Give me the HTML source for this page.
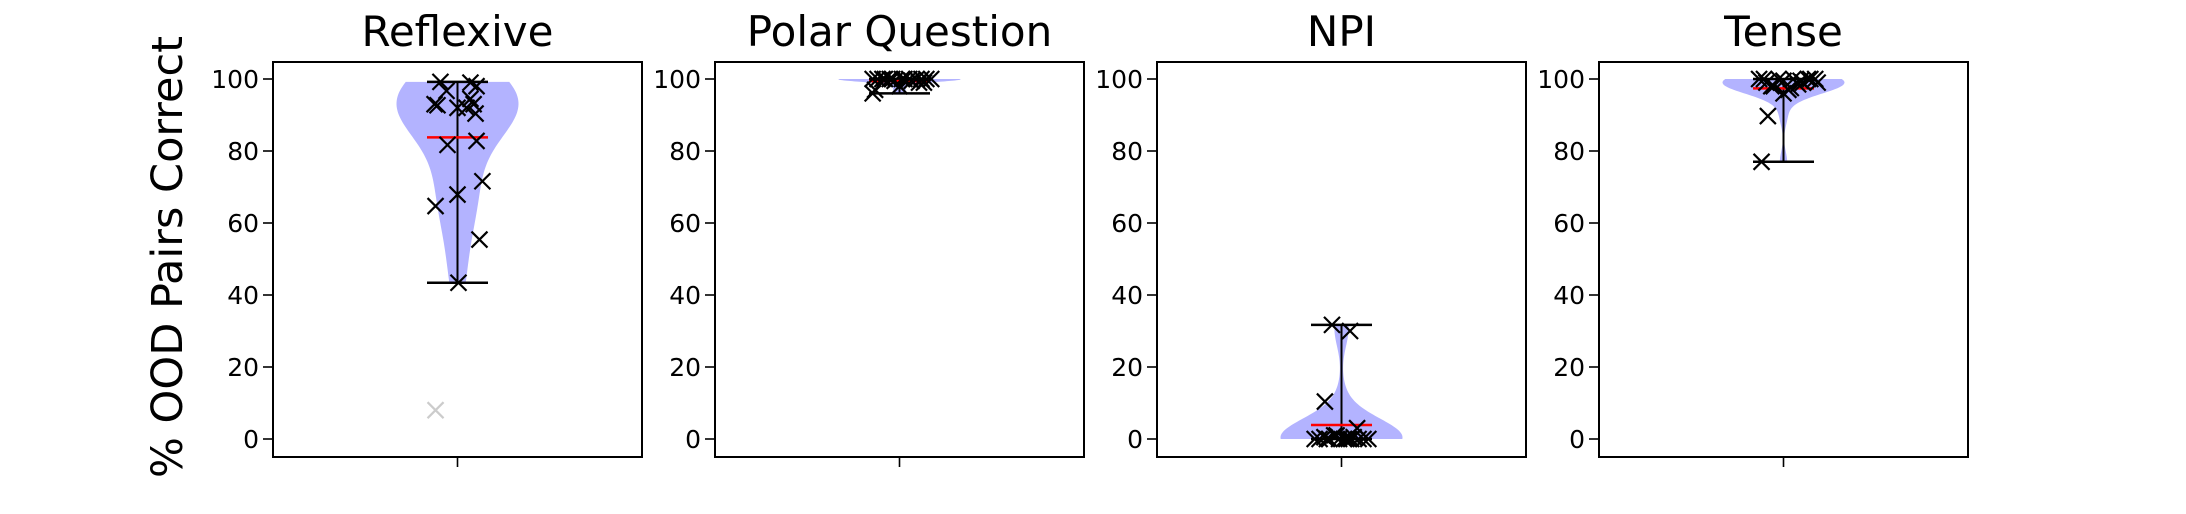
<!DOCTYPE html>
<html><head><meta charset="utf-8"><style>
html,body{margin:0;padding:0;background:#fff;}
svg{display:block;font-family:"DejaVu Sans","Liberation Sans",sans-serif;}
</style></head><body>
<svg id="chart" width="2186" height="514" viewBox="0 0 2186 514" xmlns="http://www.w3.org/2000/svg">
<text transform="translate(182,257) rotate(-90)" text-anchor="middle" font-size="43">% OOD Pairs Correct</text>
</svg>
<script>
const panelTitles = ["Reflexive", "Polar Question", "NPI", "Tense"];
const reflexiveValues = [99.2,99,98,96.7,93,92.7,92,94.5,93,90.4,92,81.7,82.8,71.6,67.9,64.7,55.4,43.4];
const reflexiveJitter = [-0.07,0.053,0.078,-0.045,-0.094,-0.082,0,0.053,0.066,0.074,0.037,-0.041,0.078,0.102,0,-0.09,0.09,0.004];
const reflexiveOutliers = [8];
const reflexiveOutlierJitter = [-0.09];
const polarValues = [100,100,100,99.5,100,99,100,100,98,100,99.5,100,100,97,100,99,100,96,100,100];
const polarJitter = [-0.11,-0.06,0.02,0.05,-0.03,0.08,0.11,-0.09,0.0,0.13,-0.02,0.04,-0.07,-0.1,0.07,0.1,0.09,-0.11,-0.04,0.01];
const npiValues = [31.7,30,10.4,3,0,0,0.5,0,1,0,0,0,0.5,0,0,0,1,0,0,0];
const npiJitter = [-0.039,0.035,-0.068,0.064,-0.11,-0.09,-0.07,-0.05,-0.03,-0.01,0.01,0.03,0.05,0.07,0.09,0.11,-0.02,0.02,0.04,-0.06];
const tenseValues = [77,89.7,100,99,98,100,99.5,97,100,98.5,99,100,96,100,99,98,100,99.5,100,97.5];
const tenseJitter = [-0.09,-0.064,-0.1,-0.07,-0.04,-0.02,0.0,0.02,0.04,0.06,0.08,0.1,0.0,0.13,0.14,-0.05,0.11,0.07,-0.08,0.03];
const yTicks = [0,20,40,60,80,100];

const panels = [
  {values: reflexiveValues, jitter: reflexiveJitter, outliers: reflexiveOutliers, outJitter: reflexiveOutlierJitter},
  {values: polarValues, jitter: polarJitter, outliers: [], outJitter: []},
  {values: npiValues, jitter: npiJitter, outliers: [], outJitter: []},
  {values: tenseValues, jitter: tenseJitter, outliers: [], outJitter: []}
];

const NS = "http://www.w3.org/2000/svg";
const svg = document.getElementById("chart");
const AX_W = 369, AX_TOP = 62, AX_BOT = 457, GAP = 442, LEFT0 = 273;
const Y0 = 439, YPX = 3.6;
const XPX = 244; // px per x data unit
function yScale(v){ return Y0 - v*YPX; }
function mk(tag, attrs, parent){
  const e = document.createElementNS(NS, tag);
  for (const k in attrs) e.setAttribute(k, attrs[k]);
  (parent||svg).appendChild(e);
  return e;
}
function cross(g, cx, cy, color){
  const s = 8;
  const p = mk("path", {d:`M${cx-s},${cy-s}L${cx+s},${cy+s}M${cx-s},${cy+s}L${cx+s},${cy-s}`, stroke:color, "stroke-width":2.2, fill:"none"}, g);
  
  
}
function kde(vals){
  const n = vals.length;
  const mean = vals.reduce((a,b)=>a+b,0)/n;
  const sd = Math.sqrt(vals.reduce((a,b)=>a+(b-mean)*(b-mean),0)/(n-1)) || 1;
  const bw = sd * Math.pow(n, -0.2);
  const lo = Math.min(...vals), hi = Math.max(...vals);
  const pts = [];
  for (let i=0;i<100;i++){
    const y = lo + (hi-lo)*i/99;
    let d = 0;
    for (const v of vals) d += Math.exp(-0.5*Math.pow((y-v)/bw,2));
    pts.push([y,d]);
  }
  const mx = Math.max(...pts.map(p=>p[1]));
  return pts.map(p=>[p[0], p[1]/mx*0.25]);
}

panels.forEach((pd, i) => {
  const left = LEFT0 + i*GAP;
  const cx = left + AX_W/2;
  const g = mk("g", {});
  
  

  const t = mk("text", {x: cx, y: 46, "text-anchor":"middle", "font-size":42}, g);
  t.textContent = panelTitles[i];
  
  

  // violin
  const dens = kde(pd.values);
  let d = "";
  dens.forEach((p,k)=>{ d += (k? "L":"M") + (cx + p[1]*XPX).toFixed(2) + "," + yScale(p[0]).toFixed(2); });
  for (let k=dens.length-1;k>=0;k--){ d += "L" + (cx - dens[k][1]*XPX).toFixed(2) + "," + yScale(dens[k][0]).toFixed(2); }
  d += "Z";
  const vio = mk("path", {d, fill:"rgb(179,179,255)", stroke:"none"}, g);
  
  

  const mn = Math.min(...pd.values), mxv = Math.max(...pd.values);
  const mean = pd.values.reduce((a,b)=>a+b,0)/pd.values.length;
  const cap = 0.125*XPX;
  const wl = mk("line", {x1:cx, x2:cx, y1:yScale(mn), y2:yScale(mxv), stroke:"#000", "stroke-width":2}, g);
  
  
  [mn, mxv].forEach(v=>{
    const c = mk("line", {x1:cx-cap, x2:cx+cap, y1:yScale(v), y2:yScale(v), stroke:"#000", "stroke-width":2.5}, g);
    
    
  });
  const ml = mk("line", {x1:cx-cap, x2:cx+cap, y1:yScale(mean), y2:yScale(mean), stroke:"#f00", "stroke-width":2.5}, g);
  
  

  pd.values.forEach((v,k)=> cross(g, cx + pd.jitter[k]*XPX, yScale(v), "#000"));
  pd.outliers.forEach((v,k)=> cross(g, cx + pd.outJitter[k]*XPX, yScale(v), "#cccccc"));

  // frame
  const fr = mk("rect", {x:left, y:AX_TOP, width:AX_W, height:AX_BOT-AX_TOP, fill:"none", stroke:"#000", "stroke-width":2}, g);
  
  

  yTicks.forEach(v=>{
    const y = yScale(v);
    const tk = mk("line", {x1:left-10, x2:left, y1:y, y2:y, stroke:"#000", "stroke-width":1.6}, g);
    
    
    const tl = mk("text", {x:left-14, y:y+9, "text-anchor":"end", "font-size":25}, g);
    tl.textContent = v;
    
    
  });
  const xt = mk("line", {x1:cx, x2:cx, y1:AX_BOT, y2:AX_BOT+10, stroke:"#000", "stroke-width":1.6}, g);
  
  
});
</script>
</body></html>
